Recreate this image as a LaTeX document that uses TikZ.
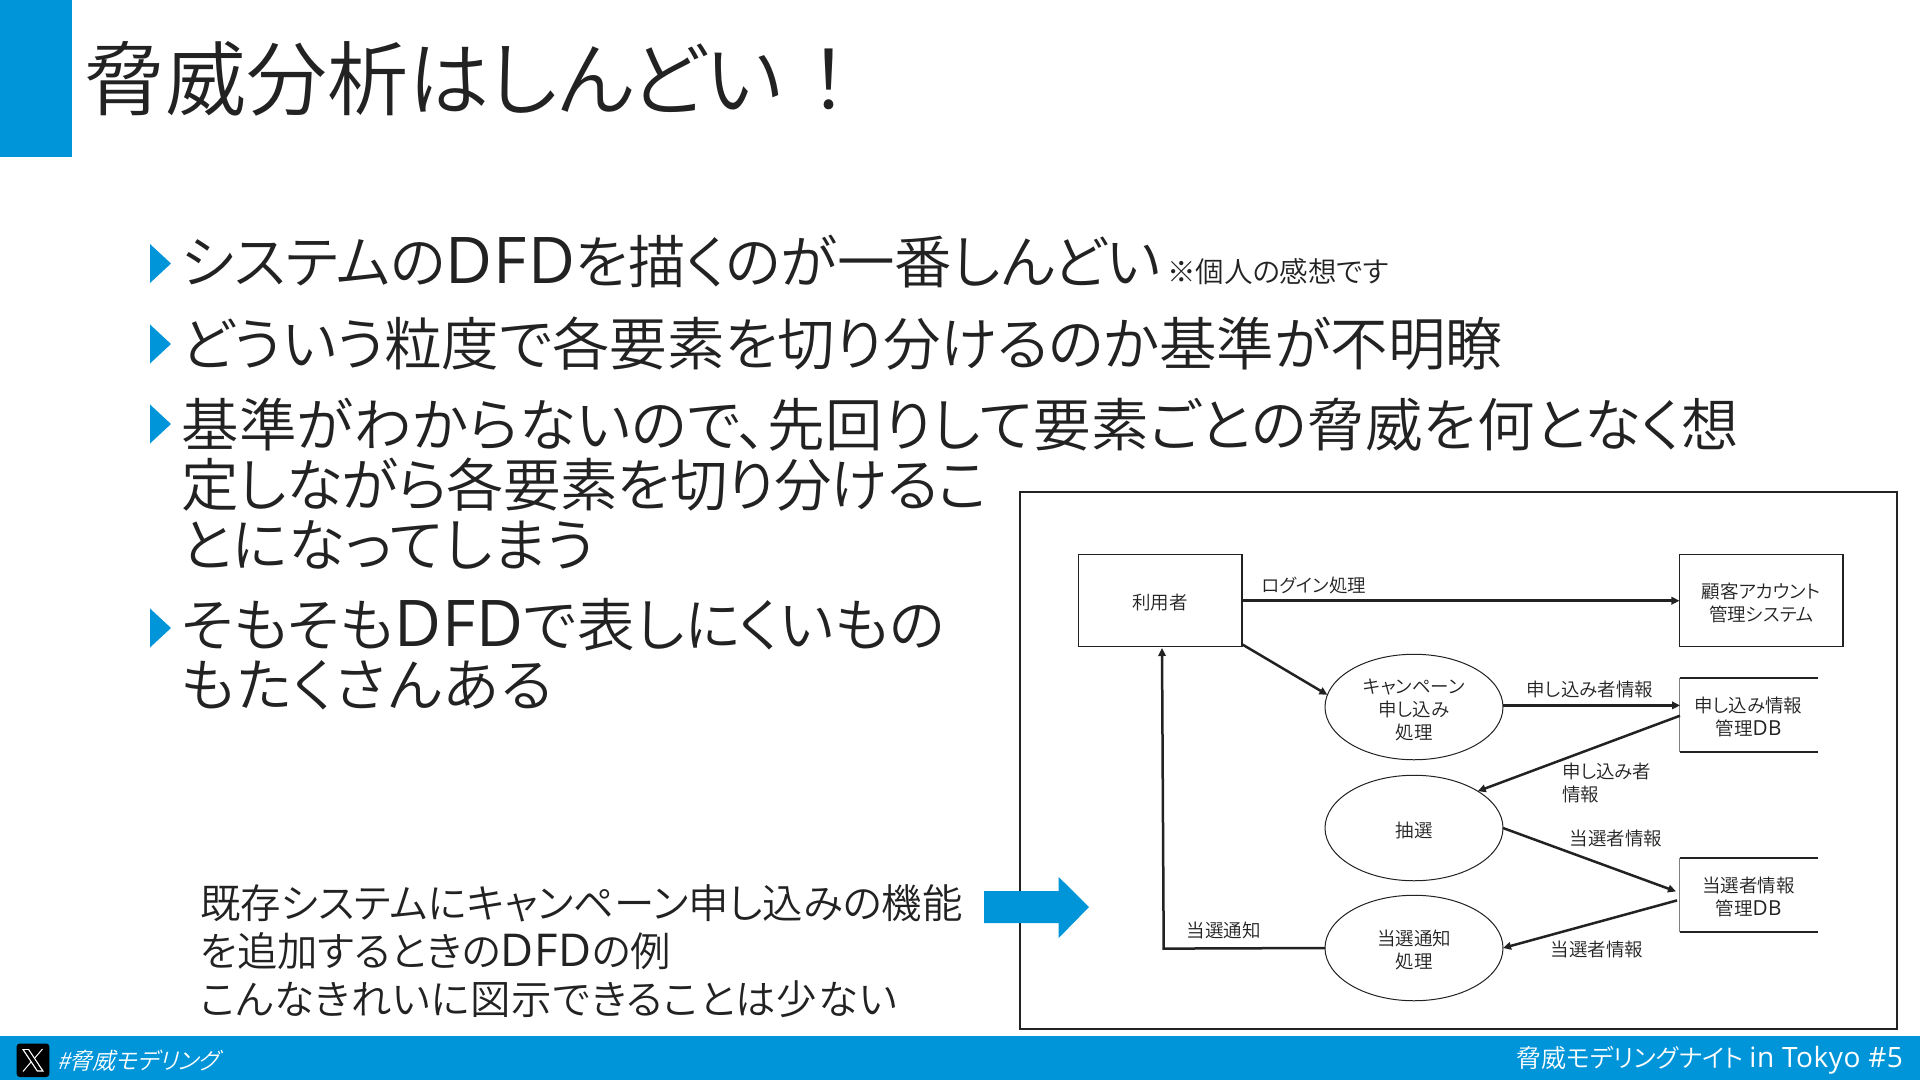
\documentclass[tikz,border=0pt]{standalone}
\usepackage{fontspec}
\usetikzlibrary{shapes.geometric,arrows.meta}
\newfontfamily\jp[RawFeature=+palt]{Noto Sans CJK JP DemiLight}
\newfontfamily\jpfull{Noto Sans CJK JP DemiLight}
\newfontfamily\jpit[FakeSlant=0.25,RawFeature=+palt]{Noto Sans CJK JP DemiLight}
\newfontfamily\lat[Scale=1.12,LetterSpace=2]{Open Sans}
\setmainfont{Noto Sans CJK JP DemiLight}
\definecolor{brand}{HTML}{0095D9}
\definecolor{ink}{HTML}{222222}
\newcommand{\fsz}[2]{\fontsize{#1}{#2}\selectfont}
\newcommand{\ltn}[1]{{\lat #1}}
\newcommand{\dn}{\rule{0pt}{20pt}}
\newcommand{\trk}[2]{{\addfontfeature{LetterSpace=#1}#2}}
\tikzset{
  x=1pt,y=-1pt,
  txt/.style={inner sep=0pt,outer sep=0pt,text=ink,align=left},
  bigtxt/.style={txt,anchor=west,font=\jp\fsz{57.5}{60}},
  lab/.style={txt,font=\jp\fsz{18.5}{23},align=center},
  labl/.style={lab,align=left},
  ent/.style={lab,draw=ink,line width=1.2pt,rectangle,minimum width=163.5pt,minimum height=92pt},
  proc/.style={lab,draw=ink,line width=1pt,ellipse,minimum width=178pt,minimum height=105.5pt},
  dbn/.style={lab,rectangle,minimum width=138pt,minimum height=74pt},
  flow/.style={draw=ink,line width=2.5pt,-{Triangle[length=8pt,width=7.5pt]},shorten >=0pt},
  bul/.style={fill=brand,draw=none},
}
\begin{document}
\begin{tikzpicture}
\useasboundingbox (0,0) rectangle (1920,1080);
\fill[white] (0,0) rectangle (1920,1080);
% header and footer bands
\fill[brand] (0,0) rectangle (72,157);
\fill[brand] (0,1036) rectangle (1920,1080);
\node[txt,anchor=base west,font=\jp\fsz{81}{82}] (title) at (84,109) {脅威分析はしんどい\hspace{6pt}{\jpfull ！}};
% bullets
\foreach \cy in {263.5,344,424,628}{
  \fill[bul] (150,\cy-19.5) -- (171,\cy) -- (150,\cy+19.5) -- cycle;
}
\node[bigtxt] (b1) at (181,262) {システムの\ltn{DFD}を描くのが一番しんどい};
\node[txt,anchor=west,font=\jp\fsz{28.5}{30}] (b1n) at (1167,272) {※個人の感想です};
\node[bigtxt] (b2) at (181,344) {どういう粒度で各要素を切り分けるのか基準が不明瞭};
\node[bigtxt] (b3) at (181,484) {\trk{1}{基準がわからないので、先回りして要素ごとの脅威を何となく想}\\\trk{-1}{定しながら各要素を切り分けるこ}\\\trk{1.5}{とになってしまう}};
\node[bigtxt] (b4) at (181,654) {\trk{1}{そもそも}\ltn{DFD}\trk{1}{で表しにくいもの}\\\trk{3}{もたくさんある}};
\node[txt,anchor=west,font=\jp\fsz{40.4}{48}] (note) at (200,951) {既存システムにキャンペーン申し込みの機能\\を追加するときの\ltn{DFD}の例\\\trk{2}{こんなきれいに図示できることは少ない}};
% figure frame
\draw[ink,line width=2.2pt] (1020,492) rectangle (1897,1029);
% entities
\node[ent] (user) at (1160.2,600.7) {\dn 利用者};
\node[ent] (acct) at (1761.2,600.7) {\dn 顧客アカウント\\管理システム};
\node[proc] (e1) at (1414,707) {\dn キャンペーン\\申し込み\\処理};
\node[proc] (e2) at (1414,828) {\dn 抽選};
\node[proc] (e3) at (1414,948) {\dn 当選通知\\処理};
\node[dbn] (db1) at (1748.5,715) {\dn 申し込み情報\\管理\ltn{DB}};
\node[dbn] (db2) at (1748.5,895) {\dn 当選者情報\\管理\ltn{DB}};
\foreach \d in {db1,db2}{
  \draw[ink,line width=1.5pt] (\d.north west) -- (\d.north east);
  \draw[ink,line width=1.5pt] (\d.south west) -- (\d.south east);
  \draw[gray,line width=0.7pt] (\d.north west) -- (\d.south west);
}
% connector ends
\coordinate (db2in) at (1676,891.4);
\coordinate (db2out) at (1677,900.4);
\coordinate (usertop) at (1162,648);
\coordinate (corner) at (1163.7,948.6);
\coordinate (db1out) at (1680,715.7);
\coordinate (db1in) at (1680,705.4);
% connectors
\draw[flow] (user.east) -- (acct.west);
\draw[flow] (user.south east) ++(0,-2.5) -- (e1.172);
\draw[flow] (e1.east |- db1in) -- (db1in);
\draw[flow] (db1out) -- (e2.30);
\draw[flow] (e2.east) -- (db2in);
\draw[flow] (db2out) -- (e3.east);
\draw[flow] (e3.west) -- (corner) -- (usertop);
% labels
\node[lab] (l1) at (1314,585) {ログイン処理};
\node[lab] (l2) at (1590,689) {申し込み者情報};
\node[labl,anchor=west] (l3) at (1562,783) {申し込み者\\情報};
\node[lab] (l4) at (1616,838) {当選者情報};
\node[lab] (l5) at (1597,949) {当選者情報};
\node[lab] (l6) at (1223.6,930.7) {当選通知};
% blue arrow
\fill[brand] (984,891) -- (1058.7,891) -- (1058.7,877) -- (1089,907) -- (1058.7,938) -- (1058.7,923) -- (984,923) -- cycle;
% footer
\fill[black,rounded corners=3pt] (16.7,1043.5) rectangle (49.3,1077);
\fill[white] (22,1049) -- (29,1049) -- (44,1071.5) -- (37,1071.5) -- cycle;
\fill[black] (24.4,1050.2) -- (28.3,1050.2) -- (41.6,1070.3) -- (37.7,1070.3) -- cycle;
\draw[white,line width=1pt] (42.5,1049) -- (34.5,1058.3);
\draw[white,line width=1pt] (31,1062) -- (23,1071.5);
\node[txt,anchor=west,text=white,font=\jpit\fsz{23}{25}] (tag) at (57,1061) {\#脅威モデリング};
\node[txt,anchor=east,text=white,font=\jp\fsz{25}{27}] (evt) at (1903,1060) {脅威モデリングナイト \ltn{in Tokyo \#5}};
\end{tikzpicture}
\end{document}
